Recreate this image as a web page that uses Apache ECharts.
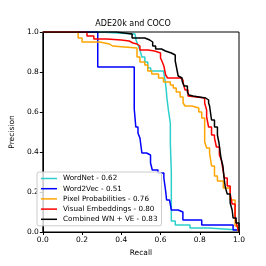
<!DOCTYPE html>
<html>
<head>
<meta charset="utf-8">
<script src="https://cdn.jsdelivr.net/npm/echarts@6/dist/echarts.min.js"></script>
<style>html,body{margin:0;padding:0;background:#fff}#c{width:266px;height:266px}</style>
</head>
<body>
<div id="c"></div>
<script>
var titleText = 'ADE20k and COCO';
var xName = 'Recall';
var yName = 'Precision';
var seriesNames = ['WordNet - 0.62', 'Word2Vec - 0.51', 'Pixel Probabilities - 0.76', 'Visual Embeddings - 0.80', 'Combined WN + VE - 0.83'];
var seriesColors = ['#2ccfcc', '#0000ff', '#ffa500', '#ff0000', '#000000'];

var wordnetRecall    = [0, 0.29, 0.29, 0.47, 0.475, 0.485, 0.495, 0.505, 0.52, 0.535, 0.55, 0.615, 0.625, 0.63, 0.632, 0.64, 0.65, 0.65, 0.655, 0.655, 0.675, 0.75, 0.845, 1.0];
var wordnetPrecision = [1, 1, 0.99, 0.99, 0.96, 0.935, 0.91, 0.875, 0.85, 0.82, 0.805, 0.80, 0.745, 0.70, 0.675, 0.61, 0.545, 0.445, 0.30, 0.055, 0.035, 0.02, 0.01, 0.0];

var word2vecRecall    = [0, 0.28, 0.28, 0.466, 0.474, 0.485, 0.495, 0.505, 0.529, 0.549, 0.558, 0.587, 0.617, 0.626, 0.631, 0.646, 0.655, 0.69, 0.714, 0.81, 0.97, 1.0];
var word2vecPrecision = [1, 1, 0.825, 0.615, 0.525, 0.495, 0.47, 0.395, 0.385, 0.345, 0.31, 0.295, 0.27, 0.205, 0.16, 0.155, 0.11, 0.10, 0.06, 0.035, 0.01, 0.0];

var pixelRecall    = [0, 0.18, 0.2, 0.29, 0.34, 0.355, 0.48, 0.495, 0.52, 0.535, 0.555, 0.59, 0.615, 0.65, 0.665, 0.68, 0.70, 0.715, 0.725, 0.76, 0.795, 0.81, 0.825, 0.825, 0.835, 0.85, 0.86, 0.875, 0.89, 0.92, 0.955, 0.98, 0.98, 0.995, 1.0];
var pixelPrecision = [1, 0.97, 0.95, 0.94, 0.93, 0.92, 0.875, 0.85, 0.835, 0.805, 0.79, 0.77, 0.75, 0.735, 0.72, 0.70, 0.675, 0.645, 0.63, 0.62, 0.60, 0.57, 0.50, 0.45, 0.42, 0.395, 0.33, 0.28, 0.255, 0.22, 0.16, 0.145, 0.03, 0.01, 0.0];

var visualRecall    = [0, 0.225, 0.26, 0.325, 0.40, 0.44, 0.46, 0.48, 0.495, 0.535, 0.57, 0.60, 0.607, 0.617, 0.626, 0.636, 0.70, 0.715, 0.725, 0.74, 0.75, 0.825, 0.835, 0.835, 0.845, 0.86, 0.875, 0.885, 0.90, 0.91, 0.92, 0.925, 0.94, 0.955, 0.965, 0.98, 0.99, 1.0];
var visualPrecision = [1, 0.98, 0.965, 0.96, 0.955, 0.945, 0.94, 0.93, 0.91, 0.905, 0.895, 0.87, 0.855, 0.83, 0.785, 0.77, 0.76, 0.745, 0.71, 0.68, 0.67, 0.645, 0.61, 0.575, 0.525, 0.485, 0.47, 0.425, 0.385, 0.36, 0.30, 0.27, 0.23, 0.19, 0.14, 0.08, 0.03, 0.0];

var combinedRecall    = [0, 0.375, 0.455, 0.52, 0.545, 0.56, 0.575, 0.605, 0.625, 0.655, 0.675, 0.685, 0.69, 0.70, 0.71, 0.72, 0.737, 0.745, 0.75, 0.765, 0.83, 0.845, 0.85, 0.86, 0.875, 0.89, 0.898, 0.908, 0.918, 0.925, 0.93, 0.94, 0.955, 0.965, 0.97, 0.985, 1.0];
var combinedPrecision = [1, 0.99, 0.97, 0.96, 0.95, 0.93, 0.915, 0.905, 0.895, 0.885, 0.855, 0.805, 0.78, 0.77, 0.755, 0.73, 0.70, 0.685, 0.68, 0.67, 0.66, 0.645, 0.63, 0.56, 0.525, 0.485, 0.445, 0.37, 0.33, 0.26, 0.225, 0.19, 0.145, 0.11, 0.07, 0.045, 0.0];

var xTicks = [0, 0.2, 0.4, 0.6, 0.8, 1.0];
var yTicks = [0, 0.2, 0.4, 0.6, 0.8, 1.0];

function zip(a, b) { return a.map(function (v, i) { return [v, b[i]]; }); }
var allData = [
  zip(wordnetRecall, wordnetPrecision),
  zip(word2vecRecall, word2vecPrecision),
  zip(pixelRecall, pixelPrecision),
  zip(visualRecall, visualPrecision),
  zip(combinedRecall, combinedPrecision)
];

var font = 'DejaVu Sans';
var chart = echarts.init(document.getElementById('c'), null, {renderer: 'canvas'});
chart.setOption({
  animation: false,
  backgroundColor: '#fff',
  title: {
    text: titleText, left: 'center', top: 20, padding: 0,
    textStyle: {fontFamily: font, fontSize: 8, fontWeight: 'normal', color: '#000'}
  },
  grid: {left: 33, right: 27, top: 32, bottom: 34, show: true, borderColor: '#000', borderWidth: 1, backgroundColor: 'transparent'},
  legend: {
    orient: 'vertical', left: 37, top: 172,
    data: seriesNames,
    icon: 'rect', itemWidth: 16, itemHeight: 1.5, itemGap: 3.2,
    padding: [3, 4, 3, 4],
    backgroundColor: 'rgba(255,255,255,0.8)', borderColor: '#cccccc', borderWidth: 1, borderRadius: 2,
    textStyle: {fontFamily: font, fontSize: 7.2, color: '#000', padding: [0, 0, 0, 1]}
  },
  xAxis: {
    type: 'value', min: 0, max: 1, interval: 0.2,
    name: xName, nameLocation: 'middle', nameGap: 15,
    nameTextStyle: {fontFamily: font, fontSize: 7.5, color: '#000'},
    axisLine: {show: true, lineStyle: {color: '#000', width: 1}},
    axisTick: {show: true, length: 3, lineStyle: {color: '#000'}},
    axisLabel: {fontFamily: font, fontSize: 7.5, color: '#000', margin: 4, formatter: function (v) { return v.toFixed(1); }},
    splitLine: {show: false}
  },
  yAxis: {
    type: 'value', min: 0, max: 1, interval: 0.2,
    name: yName, nameLocation: 'middle', nameGap: 21,
    nameTextStyle: {fontFamily: font, fontSize: 7.5, color: '#000'},
    axisLine: {show: true, lineStyle: {color: '#000', width: 1}},
    axisTick: {show: true, length: 3, lineStyle: {color: '#000'}},
    axisLabel: {fontFamily: font, fontSize: 7.5, color: '#000', margin: 4, formatter: function (v) { return v.toFixed(1); }},
    splitLine: {show: false}
  },
  series: seriesNames.map(function (n, i) {
    return {
      name: n, type: 'line', step: 'end', data: allData[i],
      showSymbol: false, symbol: 'none', clip: true,
      lineStyle: {color: seriesColors[i], width: 1.5},
      itemStyle: {color: seriesColors[i]},
      z: 2 + i
    };
  })
});
</script>
</body>
</html>
